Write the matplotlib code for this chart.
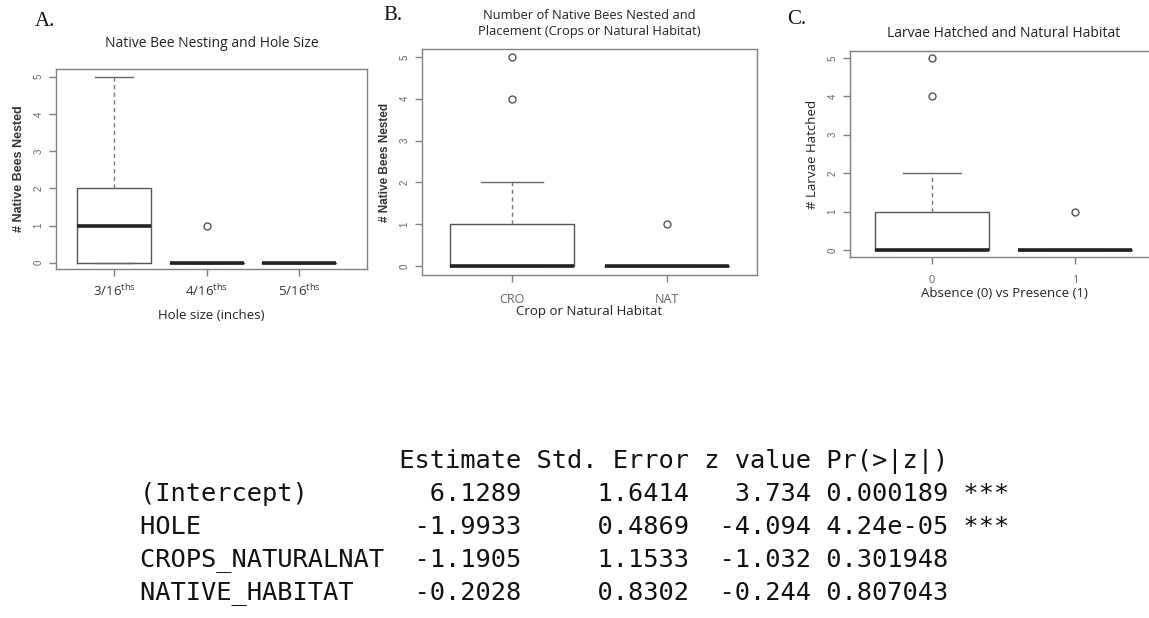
import matplotlib
matplotlib.use("Agg")
import matplotlib.pyplot as plt

plt.rcParams['mathtext.fontset'] = 'custom'
plt.rcParams['mathtext.rm'] = 'Open Sans'
plt.rcParams['mathtext.it'] = 'Open Sans'

# ---------------- data ----------------
# Panel A: hole size
a_labels = ['3/16$^{\\mathrm{ths}}$', '4/16$^{\\mathrm{ths}}$', '5/16$^{\\mathrm{ths}}$']
a_whislo = [0, 0, 0]
a_q1 = [0, 0, 0]
a_med = [1, 0, 0]
a_q3 = [2, 0, 0]
a_whishi = [5, 0, 0]
a_fliers = [[], [1], []]

# Panel B: crop vs natural habitat
b_labels = ['CRO', 'NAT']
b_whislo = [0, 0]
b_q1 = [0, 0]
b_med = [0, 0]
b_q3 = [1, 0]
b_whishi = [2, 0]
b_fliers = [[4, 5], [1]]

# Panel C: natural habitat absence/presence
c_labels = ['0', '1']
c_whislo = [0, 0]
c_q1 = [0, 0]
c_med = [0, 0]
c_q3 = [1, 0]
c_whishi = [2, 0]
c_fliers = [[4, 5], [1]]

y_ticks = [0, 1, 2, 3, 4, 5]

# regression table
row_names = ['(Intercept)', 'HOLE', 'CROPS_NATURALNAT', 'NATIVE_HABITAT']
estimates = ['6.1289', '-1.9933', '-1.1905', '-0.2028']
std_errors = ['1.6414', '0.4869', '1.1533', '0.8302']
z_values = ['3.734', '-4.094', '-1.032', '-0.244']
p_values = ['0.000189', '4.24e-05', '0.301948', '0.807043']
signif = ['***', '***', '', '']
col_headers = ['Estimate', 'Std. Error', 'z value', 'Pr(>|z|)']

W, H = 1149, 618
fig = plt.figure(figsize=(W / 100, H / 100), dpi=100)
fig.patch.set_facecolor('white')

def px_axes(left, right, top, bottom):
    return fig.add_axes([left / W, (H - bottom) / H, (right - left) / W, (bottom - top) / H])

def draw_box(ax, labels, whislo, q1, med, q3, whishi, fliers, xlim, ylim,
             tick_color, tick_size, xpad):
    stats = []
    for i in range(len(labels)):
        stats.append(dict(whislo=whislo[i], q1=q1[i], med=med[i], q3=q3[i],
                          whishi=whishi[i], fliers=fliers[i], label=labels[i]))
    ax.bxp(stats, positions=list(range(1, len(labels) + 1)), widths=0.8,
           showfliers=True,
           boxprops=dict(color='#555555', linewidth=1.0),
           medianprops=dict(color='#222222', linewidth=2.6, solid_capstyle='butt'),
           whiskerprops=dict(color='#777777', linewidth=1.0, linestyle=(0, (3, 2.5))),
           capprops=dict(color='#666666', linewidth=1.0),
           capwidths=0.4,
           flierprops=dict(marker='o', markersize=5, markerfacecolor='none',
                           markeredgecolor='#555555', markeredgewidth=1.0))
    ax.set_xlim(*xlim)
    ax.set_ylim(*ylim)
    ax.set_yticks(y_ticks)
    ax.set_yticklabels([str(t) for t in y_ticks], rotation=90, va='center',
                       fontsize=7, color='#666666', family='Liberation Sans')
    for lab in ax.get_xticklabels():
        lab.set_color(tick_color)
        lab.set_fontsize(tick_size)
        lab.set_family('Open Sans')
    for s in ax.spines.values():
        s.set_color('#808080')
        s.set_linewidth(1.0)
    ax.tick_params(axis='both', length=5, color='#808080', width=1.0)
    ax.tick_params(axis='y', pad=4)
    ax.tick_params(axis='x', pad=xpad)

# Panel A
axA = px_axes(56, 367, 69, 269)
draw_box(axA, a_labels, a_whislo, a_q1, a_med, a_q3, a_whishi, a_fliers,
         (0.373, 3.735), (-0.17, 5.21), '#333333', 9.5, 5)
axA.set_title('Native Bee Nesting and Hole Size', fontsize=10, family='Open Sans',
              color='#222222', pad=16)
axA.set_xlabel('Hole size (inches)', fontsize=9.5, family='Open Sans', color='#222222',
               labelpad=7)
axA.set_ylabel('# Native Bees Nested', fontsize=9, family='Liberation Sans',
               fontweight='bold', color='#333333', labelpad=6)
fig.text(35 / W, 1 - 22 / H, 'A.', fontsize=15, family='Liberation Serif',
         va='center', ha='left', color='#111111')

# Panel B
axB = px_axes(422, 757, 49, 275)
draw_box(axB, b_labels, b_whislo, b_q1, b_med, b_q3, b_whishi, b_fliers,
         (0.419, 2.58), (-0.215, 5.19), '#666666', 9, 8)
axB.set_title('Number of Native Bees Nested and\nPlacement (Crops or Natural Habitat)',
              fontsize=9.3, family='Open Sans', color='#222222', pad=10, linespacing=1.35)
axB.set_xlabel('Crop or Natural Habitat', fontsize=9.5, family='Open Sans',
               color='#222222', labelpad=-1)
axB.set_ylabel('# Native Bees Nested', fontsize=8.5, family='Liberation Sans',
               fontweight='bold', color='#333333', labelpad=6)
fig.text(383 / W, 1 - 15 / H, 'B.', fontsize=15, family='Liberation Serif',
         va='center', ha='left', color='#111111')

# Panel C
axC = px_axes(850, 1158, 51, 257)
draw_box(axC, c_labels, c_whislo, c_q1, c_med, c_q3, c_whishi, c_fliers,
         (0.427, 2.58), (-0.18, 5.18), '#666666', 8, 8)
axC.set_title('Larvae Hatched and Natural Habitat', fontsize=10, family='Open Sans',
              color='#222222', pad=10)
axC.set_xlabel('Absence (0) vs Presence (1)', fontsize=9.5, family='Open Sans',
               color='#222222', labelpad=1)
axC.set_ylabel('# Larvae Hatched', fontsize=9.5, family='Open Sans',
               color='#222222', labelpad=6)
fig.text(787 / W, 1 - 19 / H, 'C.', fontsize=15, family='Liberation Serif',
         va='center', ha='left', color='#111111')

# Regression table (R summary style)
header = ' ' * 17 + ' '.join(col_headers)
lines = [header]
for i in range(len(row_names)):
    line = (row_names[i].ljust(16) + ' ' + estimates[i].rjust(8) + ' ' +
            std_errors[i].rjust(10) + ' ' + z_values[i].rjust(7) + ' ' +
            p_values[i].rjust(8) + ' ' + signif[i])
    lines.append(line)
y_rows = [462, 494, 527, 560, 593]
for ln, yy in zip(lines, y_rows):
    fig.text(140 / W, 1 - yy / H, ln, fontsize=18.3, family='DejaVu Sans Mono',
             va='center', ha='left', color='#111111')

fig.savefig('out.png', dpi=100, facecolor='white')
